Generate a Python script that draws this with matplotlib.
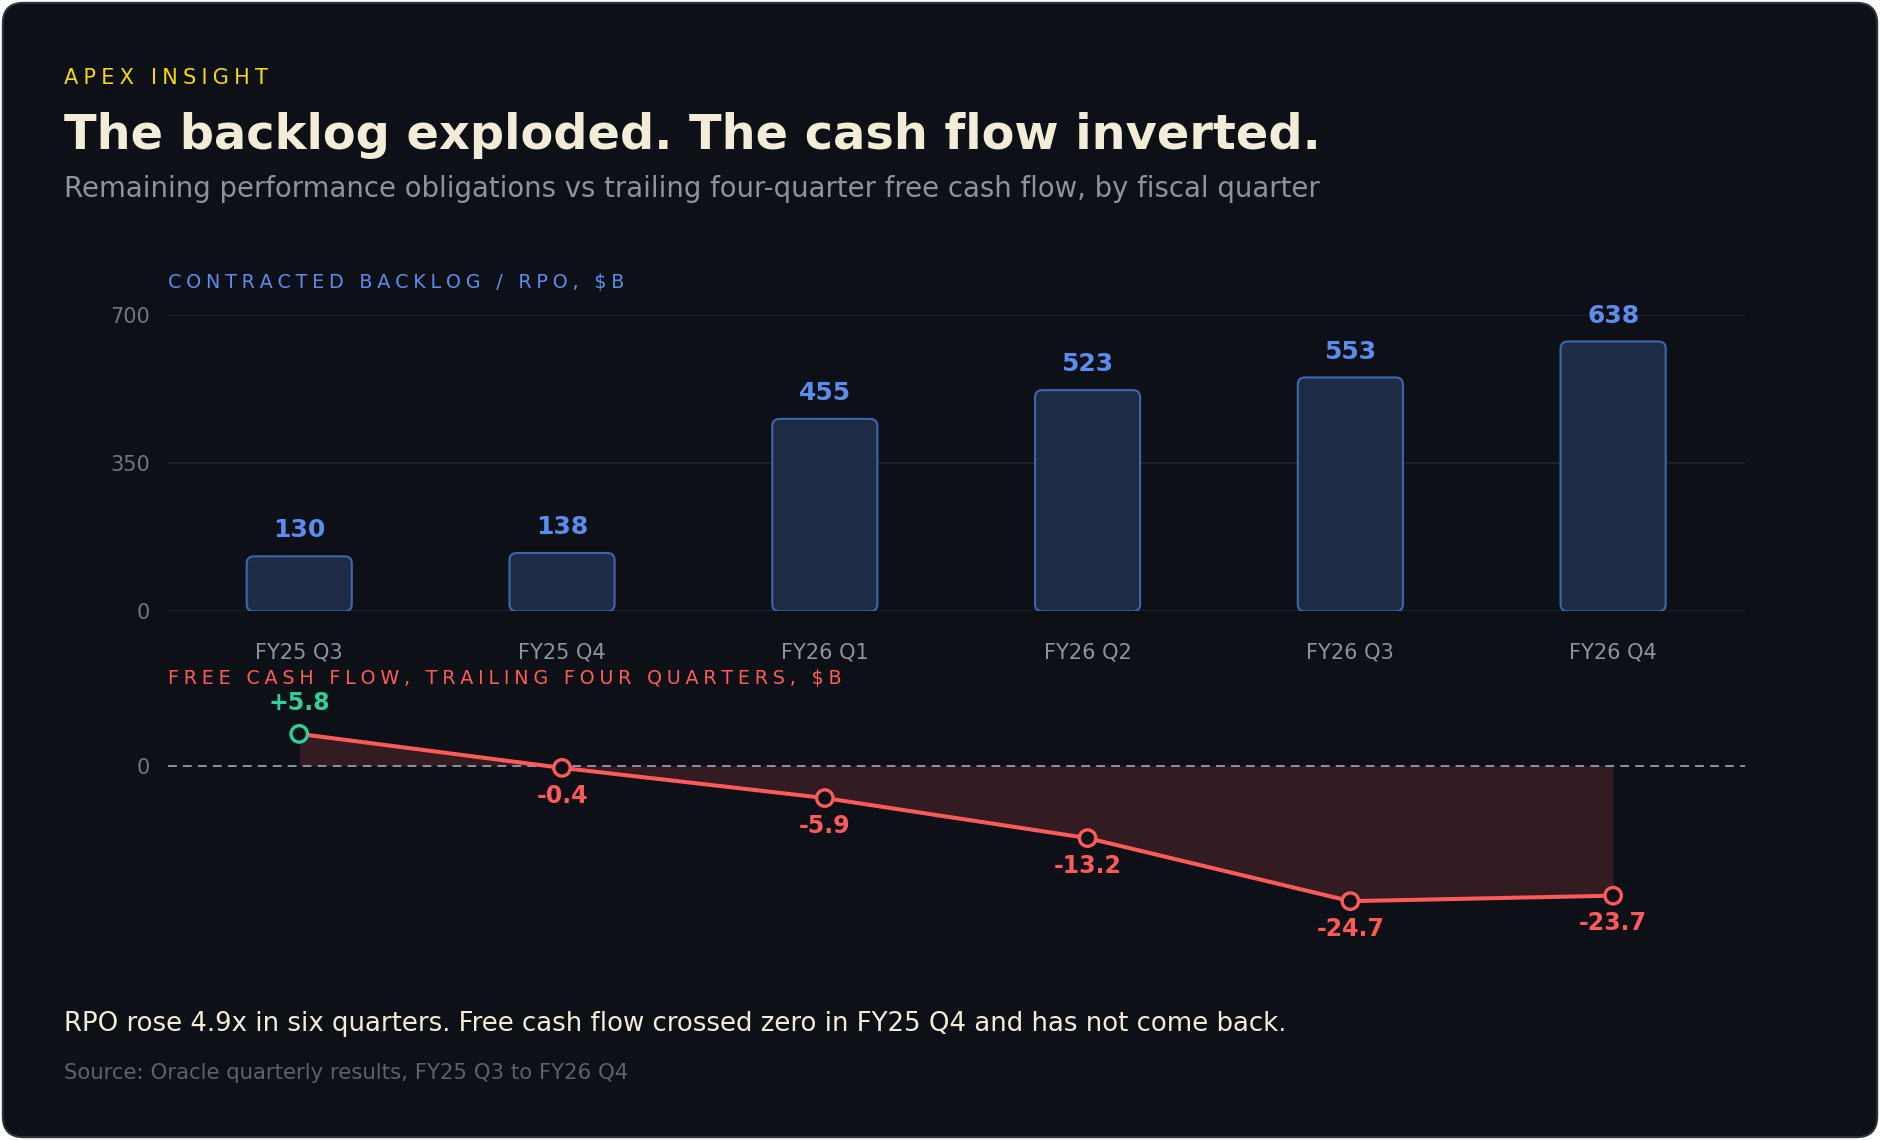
import matplotlib
matplotlib.use("Agg")
import matplotlib.pyplot as plt
from matplotlib.patches import FancyBboxPatch

# data
quarters = ["FY25 Q3", "FY25 Q4", "FY26 Q1", "FY26 Q2", "FY26 Q3", "FY26 Q4"]
rpo = [130, 138, 455, 523, 553, 638]
fcf = [5.8, -0.4, -5.9, -13.2, -24.7, -23.7]
rpo_ticks = [0, 350, 700]
fcf_ticks = [0]

BG = "#0d1017"
CREAM = "#f3ecd9"
GREY = "#8b949e"
DIM = "#6e7681"
BLUE = "#5b8def"
RED = "#ff5a5a"
GREEN = "#2ed197"
YELLOW = "#f5d90a"

# layout is worked out on a 1568 x 951 grid, then mapped to figure fractions
W, H = 1568, 951


def fx(x):
    return x / W


def fy(y):
    return 1 - y / H


def spaced(s):
    # fake letter spacing with a narrow unicode space
    return "\u2005".join(s)


fig = plt.figure(figsize=(18.8, 11.4), dpi=100, facecolor="white")

card = FancyBboxPatch((0.0015, 0.0025), 0.997, 0.995,
                      boxstyle="round,pad=0,rounding_size=0.011",
                      mutation_aspect=18.8 / 11.4,
                      transform=fig.transFigure,
                      facecolor=BG, edgecolor="#2d333b", lw=1.5, zorder=-10)
fig.patches.append(card)

# header
fig.text(fx(53), fy(70), spaced("APEX INSIGHT"), color=YELLOW, fontsize=15, va="baseline")
fig.text(fx(53), fy(124), "The backlog exploded. The cash flow inverted.",
         color=CREAM, fontsize=34.5, fontweight="bold", va="baseline")
fig.text(fx(53), fy(164), "Remaining performance obligations vs trailing four-quarter free cash flow, by fiscal quarter",
         color=GREY, fontsize=19.8, va="baseline")

# --- top panel: RPO bars ---
ax1 = fig.add_axes([fx(140), fy(510), fx(1455) - fx(140), (510 - 263) / H])
ax1.set_facecolor("none")
x = list(range(len(quarters)))
ax1.set_xlim(-0.5, 5.5)
ax1.set_ylim(0, 700)

bars = ax1.bar(x, rpo, width=0.4)
px_x = (1455 - 140) / 6.0        # grid px per x unit
px_y = (510 - 263) / 700.0       # grid px per y unit
r = 6 / px_x
for b in bars:
    bx, by, bw, bh = b.get_x(), b.get_y(), b.get_width(), b.get_height()
    b.remove()
    ax1.add_patch(FancyBboxPatch((bx, by), bw, bh,
                                 boxstyle=f"round,pad=0,rounding_size={r}",
                                 mutation_aspect=(6 / px_y) / r,
                                 facecolor="#1e2b45", edgecolor="#3f66ad", lw=1.5, zorder=3))

for xi, v in zip(x, rpo):
    ax1.annotate(f"{v}", (xi, v), xytext=(0, 10), textcoords="offset points",
                 ha="center", va="bottom", color=BLUE, fontsize=18, fontweight="bold")

ax1.set_yticks(rpo_ticks)
ax1.grid(axis="y", color="#1f2630", lw=1.2)
ax1.set_axisbelow(True)
ax1.set_xticks(x, quarters)
for s in ax1.spines.values():
    s.set_visible(False)
ax1.tick_params(axis="y", length=0, pad=13, labelcolor=DIM, labelsize=15)
ax1.tick_params(axis="x", length=0, pad=22.5, labelcolor=GREY, labelsize=15)

fig.text(fx(140), fy(240), spaced("CONTRACTED BACKLOG / RPO, $B"), color=BLUE, fontsize=13.8, va="baseline")

# --- bottom panel: trailing FCF line ---
ax2 = fig.add_axes([fx(140), fy(776), fx(1455) - fx(140), (776 - 593) / H])
ax2.set_facecolor("none")
ax2.set_xlim(-0.5, 5.5)
ax2.set_ylim(-30, 10)
ax2.fill_between(x, fcf, 0, color="#331b22", lw=0, zorder=1)
ax2.axhline(0, color=GREY, lw=1.4, ls=(0, (4.5, 3.2)), zorder=2)
ax2.plot(x, fcf, color=RED, lw=2.9, zorder=3, solid_capstyle="round")
ax2.scatter(x, fcf, s=140, facecolors=BG,
            edgecolors=[GREEN if v > 0 else RED for v in fcf], linewidths=2.4, zorder=4)
for xi, v in zip(x, fcf):
    if v > 0:
        ax2.annotate(f"+{v:.1f}", (xi, v), xytext=(0, 22), textcoords="offset points",
                     ha="center", va="center", color=GREEN, fontsize=17, fontweight="bold")
    else:
        ax2.annotate(f"{v:.1f}", (xi, v), xytext=(0, -20), textcoords="offset points",
                     ha="center", va="center", color=RED, fontsize=17, fontweight="bold")

ax2.set_xticks([])
ax2.set_yticks(fcf_ticks)
for s in ax2.spines.values():
    s.set_visible(False)
ax2.tick_params(axis="y", length=0, pad=13, labelcolor=DIM, labelsize=15)

fig.text(fx(140), fy(571), spaced("FREE CASH FLOW, TRAILING FOUR QUARTERS, $B"), color=RED, fontsize=13.8, va="baseline")

# footer
fig.text(fx(53), fy(860), "RPO rose 4.9x in six quarters. Free cash flow crossed zero in FY25 Q4 and has not come back.",
         color=CREAM, fontsize=18.7, va="baseline")
fig.text(fx(53), fy(900), "Source: Oracle quarterly results, FY25 Q3 to FY26 Q4",
         color="#5a626d", fontsize=15.3, va="baseline")

fig.savefig("out.png", dpi=100, facecolor=fig.get_facecolor())
plt.close(fig)
